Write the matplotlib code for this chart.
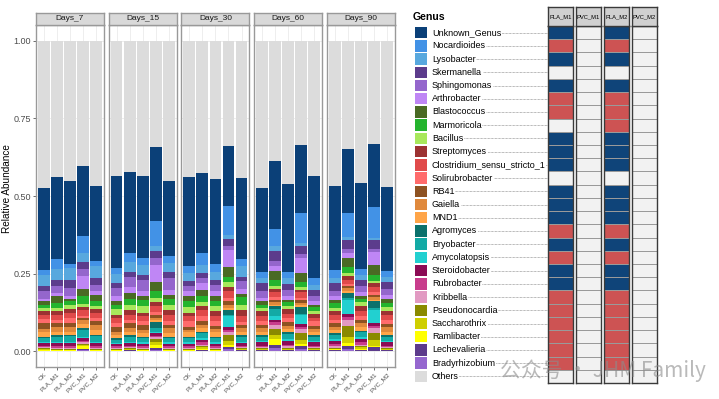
import matplotlib
matplotlib.use('Agg')
import matplotlib.pyplot as plt
from matplotlib.colors import ListedColormap
import numpy as np

plt.rcParams['font.family'] = ['Liberation Sans', 'DejaVu Sans']

days = ['Days_7', 'Days_15', 'Days_30', 'Days_60', 'Days_90']
groups = ['CK', 'PLA_M1', 'PLA_M2', 'PVC_M1', 'PVC_M2']

genera = ['Unknown_Genus', 'Nocardioides', 'Lysobacter', 'Skermanella', 'Sphingomonas',
          'Arthrobacter', 'Blastococcus', 'Marmoricola', 'Bacillus', 'Streptomyces',
          'Clostridium_sensu_stricto_1', 'Solirubrobacter', 'RB41', 'Gaiella', 'MND1',
          'Agromyces', 'Bryobacter', 'Amycolatopsis', 'Steroidobacter', 'Rubrobacter',
          'Kribbella', 'Pseudonocardia', 'Saccharothrix', 'Ramlibacter', 'Lechevalieria',
          'Bradyrhizobium', 'Others']
colors = ['#0b4078', '#4292e6', '#58a8de', '#5c3c8c', '#9466cc',
          '#bf86f5', '#4a6a24', '#24b42e', '#a8e85c', '#9c3232',
          '#e04a4a', '#ff6b6b', '#8e5222', '#e0893c', '#ffa548',
          '#0b716c', '#13aaa5', '#22d0d0', '#8b0b55', '#c83c8c',
          '#e29ac2', '#8a8a00', '#cfcf00', '#ffff00', '#5d3b8c',
          '#9567cf', '#dcdcdc']

# relative abundance, 25 bars: Days_7 (CK, PLA_M1, PLA_M2, PVC_M1, PVC_M2), Days_15, ... Days_90
unknown_genus = [.264, .263, .268, .226, .240, .296, .261, .263, .240, .242, .285, .258, .273, .194, .260,
                 .271, .221, .284, .219, .327, .270, .206, .278, .203, .270]
nocardioides = [.016, .032, .013, .054, .018, .018, .029, .021, .080, .022, .024, .037, .024, .093, .023,
                .018, .055, .018, .096, .021, .027, .077, .018, .099, .018]
lysobacter = [.036, .034, .037, .029, .038, .030, .030, .032, .016, .027, .025, .027, .026, .014, .033,
              .016, .014, .019, .009, .016, .016, .010, .018, .007, .017]
skermanella = [.018, .022, .027, .024, .021, .016, .019, .016, .022, .021, .018, .016, .016, .023, .014,
               .027, .032, .018, .027, .022, .027, .028, .020, .028, .023]
sphingomonas = [.024, .021, .027, .022, .022, .027, .032, .038, .021, .038, .016, .016, .022, .011, .026,
                .021, .016, .022, .013, .016, .016, .013, .019, .011, .019]
arthrobacter = [.008, .011, .009, .042, .011, .016, .018, .016, .054, .016, .014, .022, .014, .056, .015,
                .011, .016, .011, .048, .011, .013, .016, .013, .040, .013]
blastococcus = [.011, .021, .007, .024, .021, .011, .019, .011, .029, .014, .018, .021, .018, .030, .011,
                .011, .031, .008, .027, .007, .008, .029, .008, .032, .013]
marmoricola = [.010, .016, .011, .024, .014, .013, .019, .021, .024, .018, .019, .019, .016, .019, .025,
               .010, .020, .011, .018, .014, .016, .020, .011, .019, .013]
bacillus = [.011, .011, .013, .011, .010, .019, .018, .021, .014, .018, .017, .013, .016, .015, .016,
            .011, .008, .010, .008, .009, .011, .008, .011, .008, .012]
streptomyces = [.011, .011, .013, .008, .013, .010, .014, .011, .011, .014, .012, .011, .014, .014, .019,
                .016, .011, .016, .009, .012, .011, .013, .018, .013, .015]
clostridium = [.014, .016, .016, .019, .016, .017, .016, .016, .021, .021, .016, .019, .018, .021, .019,
               .016, .015, .013, .018, .011, .016, .013, .014, .017, .014]
solirubrobacter = [.013, .011, .017, .008, .011, .011, .011, .011, .008, .011, .017, .018, .014, .011, .010,
                   .011, .009, .014, .007, .014, .011, .006, .013, .008, .013]
rb41 = [.019, .011, .011, .007, .011, .016, .016, .016, .010, .011, .010, .011, .011, .011, .011,
        .011, .008, .011, .009, .011, .011, .008, .011, .007, .011]
gaiella = [.011, .016, .016, .011, .016, .010, .011, .011, .008, .016, .009, .011, .011, .010, .011,
           .011, .008, .011, .007, .008, .010, .008, .011, .008, .014]
mnd1 = [.013, .010, .010, .014, .016, .011, .010, .011, .006, .011, .013, .011, .013, .006, .010,
        .010, .005, .011, .006, .010, .011, .008, .014, .006, .010]
agromyces = [.005, .006, .005, .005, .005, .005, .006, .005, .019, .005, .005, .005, .005, .016, .006,
             .006, .009, .005, .021, .006, .005, .016, .005, .021, .006]
bryobacter = [.014, .016, .017, .022, .017, .011, .016, .014, .011, .014, .014, .016, .014, .005, .016,
              .013, .021, .016, .005, .013, .014, .005, .015, .006, .013]
amycolatopsis = [.003, .005, .005, .005, .005, .003, .005, .004, .005, .004, .004, .005, .004, .035, .005,
                 .005, .015, .005, .030, .005, .005, .048, .005, .043, .005]
steroidobacter = [.008, .011, .011, .008, .011, .008, .008, .009, .008, .009, .009, .009, .009, .008, .009,
                  .011, .006, .013, .007, .011, .011, .008, .011, .008, .011]
rubrobacter = [.005, .005, .005, .006, .005, .005, .006, .005, .005, .005, .005, .008, .005, .008, .005,
               .006, .008, .006, .009, .006, .008, .009, .009, .008, .006]
kribbella = [.003, .003, .003, .004, .003, .003, .003, .003, .006, .003, .002, .005, .002, .008, .003,
             .003, .014, .004, .013, .003, .004, .019, .004, .016, .003]
pseudonocardia = [.003, .002, .002, .003, .002, .002, .002, .002, .008, .002, .003, .003, .003, .019, .002,
                  .002, .018, .003, .021, .002, .003, .036, .004, .021, .002]
saccharothrix = [.002, .002, .002, .006, .002, .002, .002, .002, .011, .002, .002, .004, .002, .014, .002,
                 .002, .014, .003, .014, .002, .002, .019, .004, .022, .002]
ramlibacter = [.002, .001, .001, .008, .001, .001, .002, .001, .010, .001, .001, .004, .001, .007, .002,
               .002, .019, .002, .007, .002, .002, .011, .003, .003, .002]
lechevalieria = [.002, .001, .001, .004, .001, .001, .002, .001, .006, .001, .001, .002, .001, .007, .002,
                 .002, .010, .002, .009, .002, .002, .008, .003, .010, .002]
bradyrhizobium = [.001, .002, .002, .004, .002, .002, .002, .002, .005, .002, .002, .003, .002, .007, .002,
                  .002, .011, .002, .007, .002, .003, .009, .003, .003, .002]

# significance table: 1 = enriched (blue), -1 = depleted (red), 0 = none
sig_cols = ['PLA_M1', 'PVC_M1', 'PLA_M2', 'PVC_M2']
pla_m1_sig = [1, -1, 1, 0, 1, -1, -1, 0, 1, 1, 1, 0, 1, 1, 1, -1, 1, -1, 1, 1, -1, -1, -1, -1, -1, -1, 0]
pvc_m1_sig = [0] * 27
pla_m2_sig = [1, -1, 1, 0, 1, -1, -1, -1, 1, 1, 1, 0, 1, 1, 1, -1, 1, -1, 1, 1, -1, -1, -1, -1, -1, -1, 0]
pvc_m2_sig = [0] * 27

abund = np.array([unknown_genus, nocardioides, lysobacter, skermanella, sphingomonas, arthrobacter,
                  blastococcus, marmoricola, bacillus, streptomyces, clostridium, solirubrobacter,
                  rb41, gaiella, mnd1, agromyces, bryobacter, amycolatopsis, steroidobacter,
                  rubrobacter, kribbella, pseudonocardia, saccharothrix, ramlibacter,
                  lechevalieria, bradyrhizobium])
others = 1 - abund.sum(axis=0)
abund = np.vstack([abund, others])

W, H = 719, 399
fig = plt.figure(figsize=(W / 100, H / 100), dpi=100)


def px_axes(x0, y0, x1, y1):
    return fig.add_axes([x0 / W, 1 - y1 / H, (x1 - x0) / W, (y1 - y0) / H])


xpos = np.arange(1, 6)
for d, day in enumerate(days):
    x0 = 36 + 72.7 * d
    ax = px_axes(x0, 25, x0 + 68, 367)
    vals = abund[:, d * 5:(d + 1) * 5]
    bottom = np.zeros(5)
    # ggplot stacks the last level at the bottom
    for g in list(range(len(genera) - 1))[::-1] + [len(genera) - 1]:
        ax.bar(xpos, vals[g], bottom=bottom, width=0.9, color=colors[g], linewidth=0)
        bottom += vals[g]
    ax.set_xlim(0.4, 5.6)
    ax.set_ylim(-0.05, 1.05)
    ax.set_axisbelow(True)
    ax.grid(color='#ebebeb', lw=0.6)
    ax.set_xticks(xpos)
    ax.set_xticklabels(groups, rotation=45, ha='right', va='top', rotation_mode='anchor',
                       fontsize=4.6, color='#4d4d4d')
    ax.set_yticks([0, 0.25, 0.5, 0.75, 1.0])
    ax.tick_params(length=2, width=0.5, color='#333333', pad=1.5)
    if d == 0:
        ax.set_yticklabels(['0.00', '0.25', '0.50', '0.75', '1.00'], fontsize=6.5, color='#4d4d4d')
    else:
        ax.tick_params(axis='y', left=False, labelleft=False)
    for s in ax.spines.values():
        s.set_color('#999999')
        s.set_linewidth(1.0)

    sax = px_axes(x0, 12.5, x0 + 68, 25)
    sax.set_facecolor('#d9d9d9')
    sax.set_xticks([])
    sax.set_yticks([])
    for s in sax.spines.values():
        s.set_color('#999999')
        s.set_linewidth(1.0)
    sax.text(0.5, 0.5, day, ha='center', va='center', fontsize=6, color='#1a1a1a',
             transform=sax.transAxes)

fig.text(7 / W, 1 - 189 / H, 'Relative Abundance', rotation=90, ha='center', va='center', fontsize=7.2)

# legend with leader lines
fig.text(413 / W, 1 - 17 / H, 'Genus', fontsize=7.6, weight='bold', va='center')
lax = px_axes(412, 26, 548, 383)
lax.set_xlim(412, 548)
lax.set_ylim(len(genera), 0)
lax.axis('off')
rows = np.arange(len(genera)) + 0.5
lax.barh(rows, 12, left=415, height=0.86, color=colors)
for i, name in enumerate(genera):
    lax.plot([432, 548], [rows[i], rows[i]], ls=(0, (1, 1)), color='#777777', lw=0.5, zorder=1)
    lax.text(432, rows[i], name, va='center', ha='left', fontsize=6.5, zorder=3,
             bbox=dict(fc='white', ec='none', pad=0.4))

# significance heatmap columns
sig_cmap = ListedColormap(['#cd5353', '#f2f2f2', '#0f4479'])
col_x = [(548.3, 572.7), (576, 600.7), (604, 628.7), (632, 656.5)]
for name, sig, (cx0, cx1) in zip(sig_cols, [pla_m1_sig, pvc_m1_sig, pla_m2_sig, pvc_m2_sig], col_x):
    hax = px_axes(cx0, 26, cx1, 383)
    hax.pcolormesh(np.array(sig)[:, None], cmap=sig_cmap, vmin=-1.5, vmax=1.5,
                   edgecolors='#9a9a9a', linewidth=0.4)
    hax.set_ylim(len(sig), 0)
    hax.set_xticks([])
    hax.set_yticks([])
    for s in hax.spines.values():
        s.set_color('#3a3a3a')
        s.set_linewidth(1.0)
    tax = px_axes(cx0, 7, cx1, 26)
    tax.set_facecolor('#d0d0d0')
    tax.set_xticks([])
    tax.set_yticks([])
    for s in tax.spines.values():
        s.set_color('#3a3a3a')
        s.set_linewidth(1.0)
    tax.text(0.5, 0.5, name, ha='center', va='center', fontsize=4.2, transform=tax.transAxes)

# watermark
fig.text(500 / W, 1 - 371 / H, '公众号 · JHM Family', fontsize=15, color='#8c8c8c', alpha=0.6,
         va='center', family=['Noto Sans CJK SC', 'DejaVu Sans'])

fig.savefig('out.png', dpi=100)
